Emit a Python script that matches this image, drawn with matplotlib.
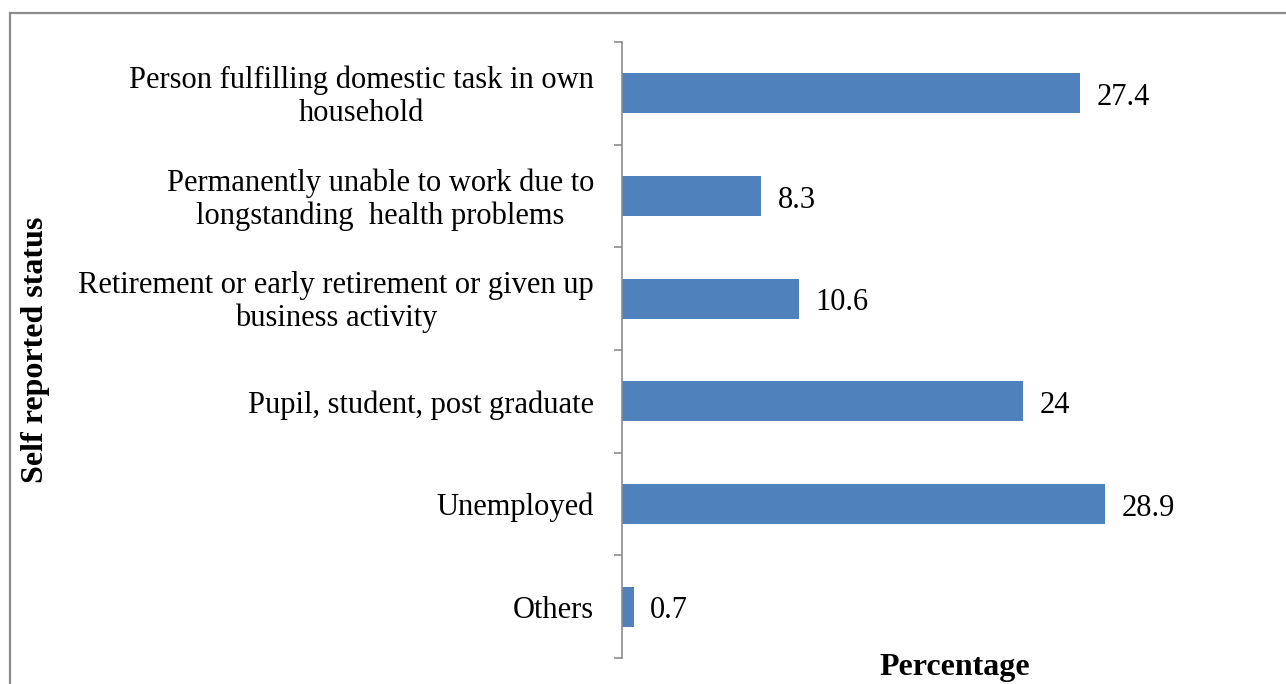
import matplotlib
matplotlib.use("Agg")
import matplotlib.pyplot as plt
from matplotlib.patches import Rectangle

categories = [
    "Person fulfilling domestic task in own\nhousehold",
    "Permanently unable to work due to\nlongstanding  health problems",
    "Retirement or early retirement or given up\nbusiness activity",
    "Pupil, student, post graduate",
    "Unemployed",
    "Others",
]
values = [27.4, 8.3, 10.6, 24, 28.9, 0.7]
value_labels = ["27.4", "8.3", "10.6", "24", "28.9", "0.7"]

plt.rcParams["font.family"] = ["Liberation Serif", "DejaVu Serif"]

W, H = 1286, 684
fig = plt.figure(figsize=(W / 100, H / 100), dpi=100)

# outer frame of the chart area
fig.patches.append(Rectangle((10 / W, -0.05), 1.1, (H - 13) / H + 0.05,
                             transform=fig.transFigure, fill=False,
                             edgecolor="#8c8c8c", linewidth=1.6))

x0, x1 = 622, 1207
y_top, y_bot = 42, 658
ax = fig.add_axes([x0 / W, (H - y_bot) / H, (x1 - x0) / W, (y_bot - y_top) / H])

n = len(categories)
pos = list(range(n))
ax.barh(pos, values, height=0.39, color="#4F81BD", zorder=2)
ax.set_ylim(n - 0.5, -0.5)
ax.set_xlim(0, 35)

for p, v, lab in zip(pos, values, value_labels):
    ax.annotate(lab, (v, p), xytext=(12, -3), textcoords="offset points",
                ha="left", va="center", fontsize=22, color="black")

ax.set_yticks([p - 0.5 for p in pos] + [n - 0.5])
ax.set_yticklabels([])
ax.tick_params(axis="y", length=6, width=1.2, color="#8c8c8c", direction="out")
for p, c in zip(pos, categories):
    ax.annotate(c, (0, p), xytext=(-20, -2.5), textcoords="offset points",
                ha="right", va="center", multialignment="center",
                fontsize=22, color="black", linespacing=1.15)

ax.set_xticks([])
for s in ["top", "right", "bottom"]:
    ax.spines[s].set_visible(False)
ax.spines["left"].set_color("#8c8c8c")
ax.spines["left"].set_linewidth(1.2)

fig.text(955 / W, (H - 668) / H, "Percentage", ha="center", va="center",
         fontsize=23, fontweight="bold")
fig.text(36 / W, (H - 350) / H, "Self reported status", ha="center", va="center",
         rotation=90, fontsize=23, fontweight="bold")

fig.savefig("out.png", dpi=100)
